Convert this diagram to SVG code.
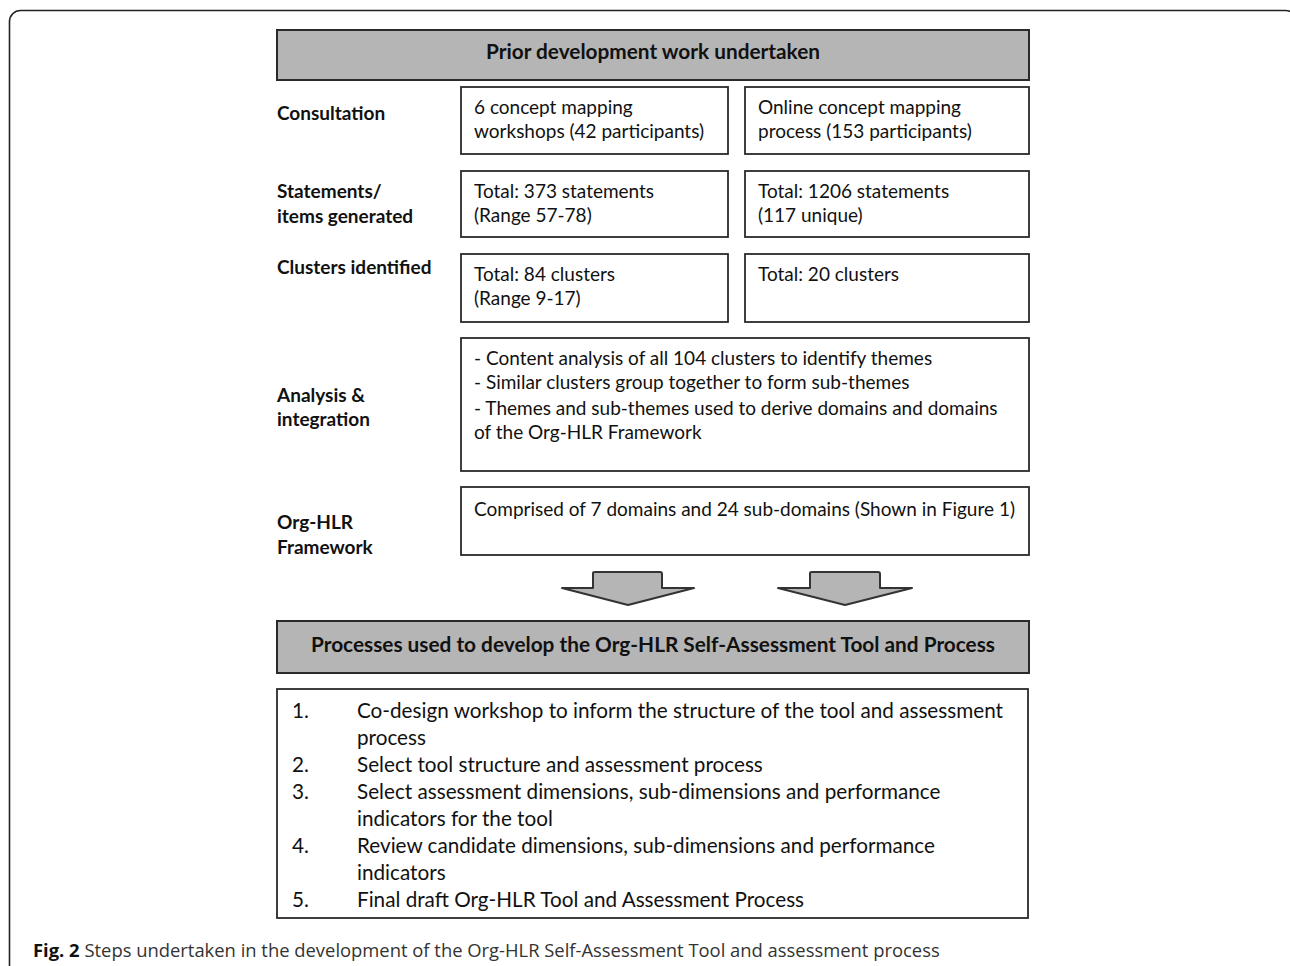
<svg xmlns="http://www.w3.org/2000/svg" width="1290" height="966" viewBox="0 0 1290 966">
<style>
.box{fill:#ffffff;stroke:#2a2a2a;stroke-width:1.8}
.hdr{fill:#b5b5b5;stroke:#2a2a2a;stroke-width:2}
.lbl{font-family:Lato,"Liberation Sans",sans-serif;font-weight:bold;font-size:19px;fill:#111}
.txt{font-family:Lato,"Liberation Sans",sans-serif;font-size:19px;fill:#111}
.htxt{font-family:Lato,"Liberation Sans",sans-serif;font-weight:bold;font-size:20.8px;fill:#111;text-anchor:middle}
.lst{font-family:Lato,"Liberation Sans",sans-serif;font-size:20.7px;fill:#111}
.arrow{fill:#b5b5b5;stroke:#333;stroke-width:2;stroke-linejoin:round}
.cap{font-family:"Open Sans","Liberation Sans",sans-serif;font-size:18.4px;fill:#333}
</style>
<rect x="0" y="0" width="1290" height="966" fill="#ffffff"/>
<rect id="frame" x="9.5" y="10.5" width="1287" height="990" rx="11" fill="none" stroke="#222" stroke-width="1.6"/>

<g id="header-prior">
<rect class="hdr" x="277" y="30" width="752" height="50"/>
<text class="htxt" x="653" y="59">Prior development work undertaken</text>
</g>

<g id="row-labels">
<text class="lbl" x="277" y="120">Consultation</text>
<text class="lbl" x="277" y="198">Statements/</text>
<text class="lbl" x="277" y="223">items generated</text>
<text class="lbl" x="277" y="274">Clusters identified</text>
<text class="lbl" x="277" y="402">Analysis &amp;</text>
<text class="lbl" x="277" y="426">integration</text>
<text class="lbl" x="277" y="529">Org-HLR</text>
<text class="lbl" x="277" y="554">Framework</text>
</g>

<g id="consult-workshops">
<rect class="box" x="461" y="87" width="267" height="67"/>
<text class="txt" x="474" y="114">6 concept mapping</text>
<text class="txt" x="474" y="138">workshops (42 participants)</text>
</g>
<g id="consult-online">
<rect class="box" x="745" y="87" width="284" height="67"/>
<text class="txt" x="758" y="114">Online concept mapping</text>
<text class="txt" x="758" y="138">process (153 participants)</text>
</g>

<g id="statements-workshops">
<rect class="box" x="461" y="171" width="267" height="66"/>
<text class="txt" x="474" y="198">Total: 373 statements</text>
<text class="txt" x="474" y="222">(Range 57-78)</text>
</g>
<g id="statements-online">
<rect class="box" x="745" y="171" width="284" height="66"/>
<text class="txt" x="758" y="198">Total: 1206 statements</text>
<text class="txt" x="758" y="222">(117 unique)</text>
</g>

<g id="clusters-workshops">
<rect class="box" x="461" y="254" width="267" height="68"/>
<text class="txt" x="474" y="281">Total: 84 clusters</text>
<text class="txt" x="474" y="305">(Range 9-17)</text>
</g>
<g id="clusters-online">
<rect class="box" x="745" y="254" width="284" height="68"/>
<text class="txt" x="758" y="281">Total: 20 clusters</text>
</g>

<g id="analysis">
<rect class="box" x="461" y="338" width="568" height="133"/>
<text class="txt" x="474" y="365">- Content analysis of all 104 clusters to identify themes</text>
<text class="txt" x="474" y="389">- Similar clusters group together to form sub-themes</text>
<text class="txt" x="474" y="415">- Themes and sub-themes used to derive domains and domains</text>
<text class="txt" x="474" y="439">of the Org-HLR Framework</text>
</g>

<g id="framework">
<rect class="box" x="461" y="487" width="568" height="68"/>
<text class="txt" x="474" y="516">Comprised of 7 domains and 24 sub-domains (Shown in Figure 1)</text>
</g>

<g id="connectors">
<path class="arrow" d="M593,573 Q593,572 595,572 L660,572 Q662,572 662,574 L662,588 L694,588 L628,605 L562,588 L593,588 Z"/>
<path class="arrow" d="M810,573 Q810,572 812,572 L878,572 Q880,572 880,574 L880,588 L912,588 L845,605 L778,588 L810,588 Z"/>
</g>

<g id="header-processes">
<rect class="hdr" x="277" y="621" width="752" height="52"/>
<text class="htxt" x="653" y="652">Processes used to develop the Org-HLR Self-Assessment Tool and Process</text>
</g>

<g id="process-list">
<rect class="box" x="277" y="689" width="751" height="229"/>
<text class="lst" x="292" y="718">1.</text>
<text class="lst" x="357" y="718">Co-design workshop to inform the structure of the tool and assessment</text>
<text class="lst" x="357" y="745">process</text>
<text class="lst" x="292" y="772">2.</text>
<text class="lst" x="357" y="772">Select tool structure and assessment process</text>
<text class="lst" x="292" y="799">3.</text>
<text class="lst" x="357" y="799">Select assessment dimensions, sub-dimensions and performance</text>
<text class="lst" x="357" y="826">indicators for the tool</text>
<text class="lst" x="292" y="853">4.</text>
<text class="lst" x="357" y="853">Review candidate dimensions, sub-dimensions and performance</text>
<text class="lst" x="357" y="880">indicators</text>
<text class="lst" x="292" y="907">5.</text>
<text class="lst" x="357" y="907">Final draft Org-HLR Tool and Assessment Process</text>
</g>

<g id="caption">
<text class="cap" x="33" y="957"><tspan font-weight="bold" fill="#111">Fig. 2</tspan> Steps undertaken in the development of the Org-HLR Self-Assessment Tool and assessment process</text>
</g>
</svg>
